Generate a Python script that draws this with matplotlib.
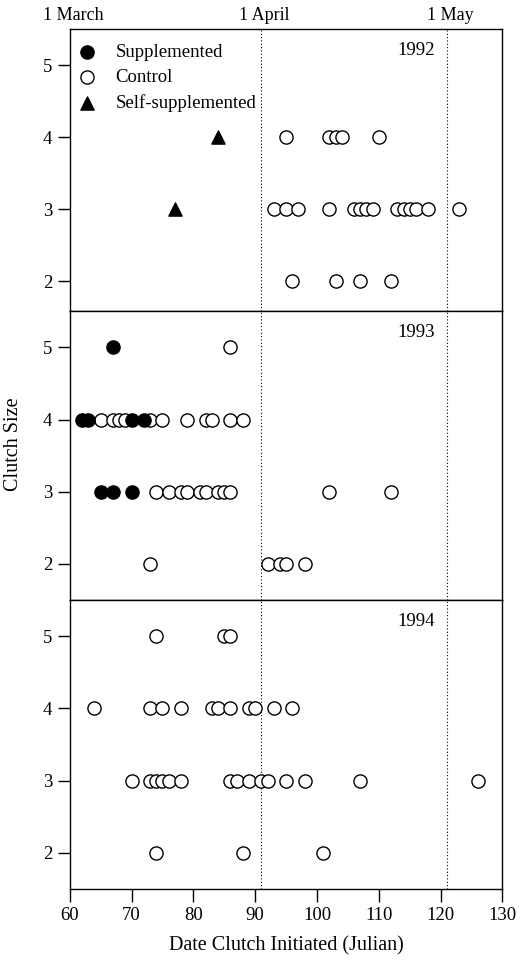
import matplotlib
matplotlib.use("Agg")
import matplotlib.pyplot as plt

# clutch initiation dates (julian day) and clutch sizes
self92_day = [84, 77]
self92_size = [4, 3]
ctrl92_day = [95, 102, 103, 104, 110,
              93, 95, 97, 102, 106, 107, 108, 109, 113, 114, 115, 116, 118, 123,
              96, 103, 107, 112]
ctrl92_size = [4, 4, 4, 4, 4,
               3, 3, 3, 3, 3, 3, 3, 3, 3, 3, 3, 3, 3, 3,
               2, 2, 2, 2]

supp93_day = [67, 62, 63, 70, 72, 65, 67, 70]
supp93_size = [5, 4, 4, 4, 4, 3, 3, 3]
ctrl93_day = [86,
              65, 67, 68, 69, 73, 75, 79, 82, 83, 86, 88,
              74, 76, 78, 79, 81, 82, 84, 85, 86, 102, 112,
              73, 92, 94, 95, 98]
ctrl93_size = [5,
               4, 4, 4, 4, 4, 4, 4, 4, 4, 4, 4,
               3, 3, 3, 3, 3, 3, 3, 3, 3, 3, 3,
               2, 2, 2, 2, 2]

ctrl94_day = [74, 85, 86,
              64, 73, 75, 78, 83, 84, 86, 89, 90, 93, 96,
              70, 73, 74, 75, 76, 78, 86, 87, 89, 91, 92, 95, 98, 107, 126,
              74, 88, 101]
ctrl94_size = [5, 5, 5,
               4, 4, 4, 4, 4, 4, 4, 4, 4, 4, 4,
               3, 3, 3, 3, 3, 3, 3, 3, 3, 3, 3, 3, 3, 3, 3,
               2, 2, 2]

months = ["1 March", "1 April", "1 May"]
month_day = [60, 91, 121]

plt.rcParams["font.family"] = ["Liberation Serif", "DejaVu Serif"]
plt.rcParams["font.size"] = 13.5

fig = plt.figure(figsize=(5.27, 9.66), dpi=100)
L, W = 0.1323, 0.8212
ax1 = fig.add_axes([L, 0.6777, W, 0.9697 - 0.6777])
ax2 = fig.add_axes([L, 0.3789, W, 0.6777 - 0.3789])
ax3 = fig.add_axes([L, 0.0797, W, 0.3789 - 0.0797])

ms = 90
for ax in (ax1, ax2, ax3):
    for d in month_day[1:]:
        ax.axvline(d, ls=(0, (1, 2)), color="k", lw=0.8, zorder=1)
    ax.set_xlim(60, 130)
    ax.set_ylim(1.5, 5.5)
    ax.set_yticks([2, 3, 4, 5])
    ax.tick_params(axis="y", direction="out", length=9, width=1, right=False)
    ax.tick_params(axis="x", direction="out", length=9, width=1, top=False)
    for s in ax.spines.values():
        s.set_linewidth(1)

ax1.set_ylim(1.58, 5.5)

# legend handles in 1992
ax1.scatter([], [], s=ms, c="k", marker="o", label="Supplemented")
ax1.scatter(ctrl92_day, ctrl92_size, s=ms, facecolors="white", edgecolors="k",
            linewidths=1, label="Control", zorder=3)
ax1.scatter(self92_day, self92_size, s=ms, c="k", marker="^", label="Self-supplemented", zorder=3)
leg = ax1.legend(loc="upper left", bbox_to_anchor=(-0.013, 0.987), frameon=False,
                 handletextpad=0.95, borderaxespad=0.2, labelspacing=0.42,
                 fontsize=13.5, handlelength=1.2)

ax2.scatter(ctrl93_day, ctrl93_size, s=ms, facecolors="white", edgecolors="k",
            linewidths=1, zorder=3)
ax2.scatter(supp93_day, supp93_size, s=ms, c="k", zorder=4)

ax3.scatter(ctrl94_day, ctrl94_size, s=ms, facecolors="white", edgecolors="k",
            linewidths=1, zorder=3)

for ax, yr in zip((ax1, ax2, ax3), ["1992", "1993", "1994"]):
    ax.text(116, 0.925, yr, transform=ax.get_xaxis_transform(), ha="center", va="center")

ax1.tick_params(axis="x", bottom=False, labelbottom=False)
ax2.tick_params(axis="x", bottom=False, labelbottom=False)
ax3.set_xticks([60, 70, 80, 90, 100, 110, 120, 130])
ax3.tick_params(axis="x", pad=4)

for lab, d in zip(months, month_day):
    ax1.text(d + 0.5, 1.05, lab, transform=ax1.get_xaxis_transform(), ha="center",
             va="center", fontsize=13)

ax3.set_xlabel("Date Clutch Initiated (Julian)", labelpad=9, fontsize=14.5)
fig.text(0.025, 0.54, "Clutch Size", rotation=90, ha="center", va="center", fontsize=14.5)

fig.savefig("out.png", dpi=100)
